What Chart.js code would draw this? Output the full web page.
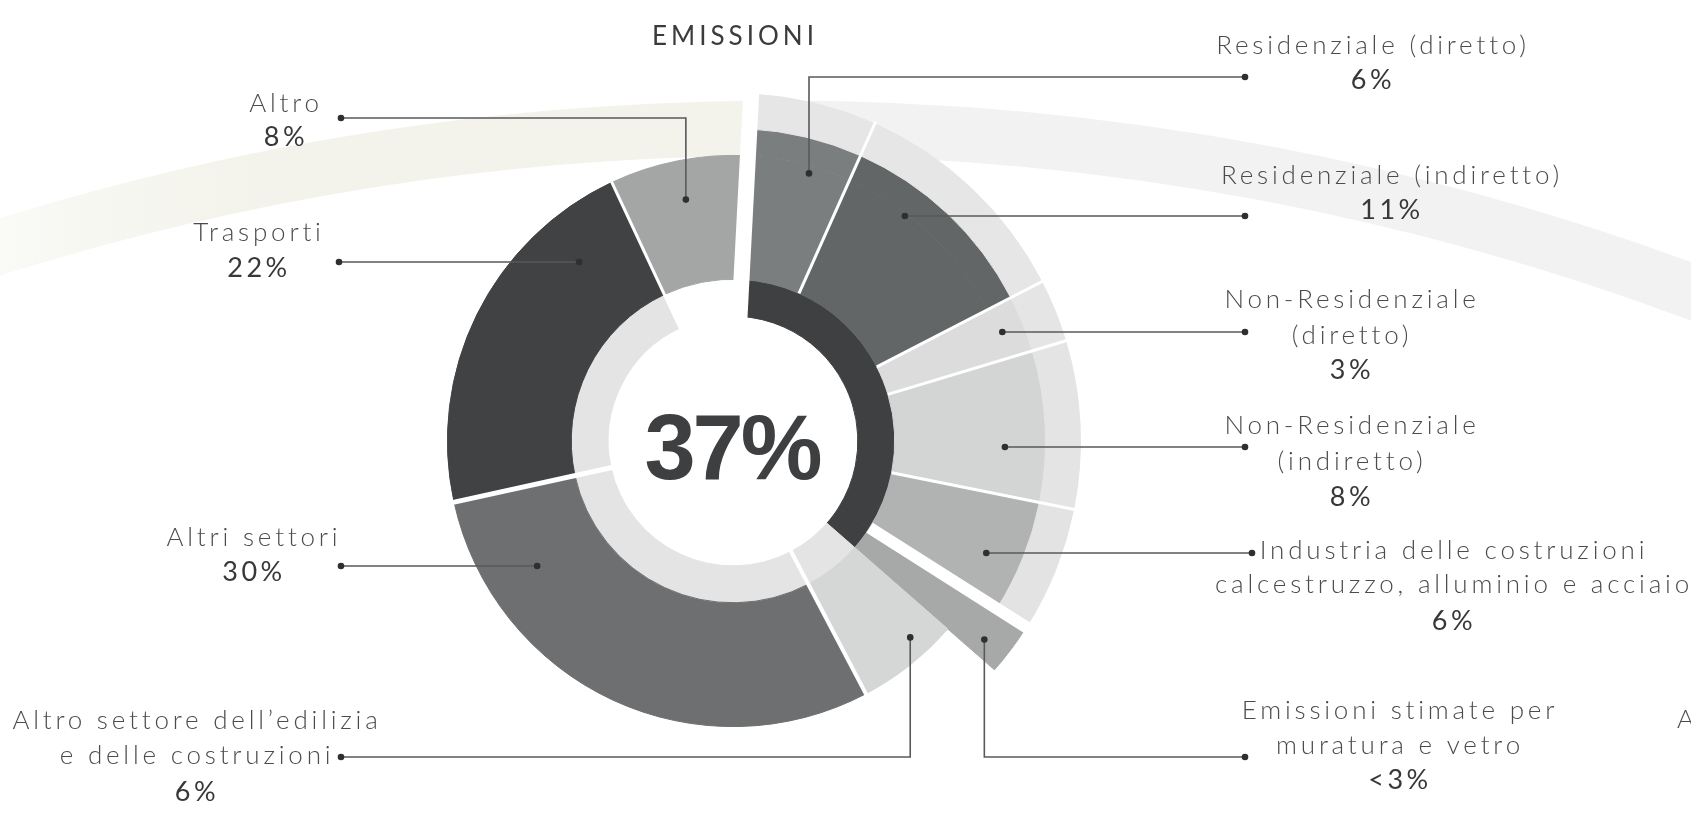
<!DOCTYPE html>
<html><head><meta charset="utf-8">
<script src="https://cdn.jsdelivr.net/npm/chart.js@4.4.1/dist/chart.umd.min.js"></script>
<style>html,body{margin:0;padding:0;background:#fff;overflow:hidden}#wrap{position:relative;width:1691px;height:815px}</style>
</head><body><div id="wrap"><canvas id="c" width="1691" height="815"></canvas></div>
<script>
// ---------- DATA ----------
const title = 'EMISSIONI';
const centerValue = '37%';
const categories = [
  'Residenziale (diretto)', 'Residenziale (indiretto)', 'Non-Residenziale (diretto)',
  'Non-Residenziale (indiretto)', 'Industria delle costruzioni', 'Emissioni stimate per muratura e vetro',
  'Altro settore dell\u2019edilizia e delle costruzioni', 'Altri settori', 'Trasporti', 'Altro'
];
const shares = [6, 11, 3, 8, 6, 2.5, 6, 30, 22, 8];
const shareLabels = ['6%', '11%', '3%', '8%', '6%', '<3%', '6%', '30%', '22%', '8%'];
const labelLines = [
  ['Residenziale (diretto)'],
  ['Residenziale (indiretto)'],
  ['Non-Residenziale', '(diretto)'],
  ['Non-Residenziale', '(indiretto)'],
  ['Industria delle costruzioni', 'calcestruzzo, alluminio e acciaio'],
  ['Emissioni stimate per', 'muratura e vetro'],
  ['Altro settore dell\u2019edilizia', 'e delle costruzioni'],
  ['Altri settori'],
  ['Trasporti'],
  ['Altro']
];

// ---------- STYLE ----------
const T = 'rgba(0,0,0,0)';
const bandColors = ['#e6e6e6','#e6e6e6','#e5e5e5','#e4e4e4','#e3e3e3','#a7a8a8',T,T,T,T];
const extColors  = ['#7b7e7f','#636667','#dcdcdc','#d3d4d4','#b1b2b2','#a7a8a8',T,T,T,T];
const mainColors = ['#7b7e7f','#636667','#dcdcdc','#d3d4d4','#b1b2b2','#a7a8a8','#d5d6d6','#6d6f71','#404244','#a4a6a6'];
const innerColors= ['#3e4042','#3e4042','#3e4042','#3e4042','#3e4042','#3e4042','#e4e4e4','#e4e4e4','#e4e4e4',T];

// white separators after segment index
const SEPS = {
  9: {w: 16, from: 'inner', to: 'far'},
  0: {w: 3, from: 'main', to: 'band'},
  1: {w: 3, from: 'main', to: 'band'},
  2: {w: 3, from: 'main', to: 'band'},
  3: {w: 3, from: 'main', to: 'band'},
  4: {w: 12, from: 'main', to: 'band'},
  6: {w: 4, from: 'inner', to: 'main'},
  7: {w: 5, from: 'inner', to: 'main'},
  8: {w: 3, from: 'inner', to: 'main'}
};

// label layout (text block positions and leader anchors)
const LAYOUT = [
  {cx: 1371, ys: [46, 80], dot: [1245, 77], elbow: true, af: 0.61, rf: 0.94},
  {cx: 1390, ys: [176, 210], dot: [1245, 216], rf: 0.98},
  {cx: 1350, ys: [300, 336, 370], dot: [1245, 332], rf: 1.04},
  {cx: 1350, ys: [426, 462, 497], dot: [1245, 447], rf: 0.89},
  {cx: 1452, ys: [551, 585, 621], dot: [1252, 553], rf: 0.93},
  {cx: 1398, ys: [711, 746, 780], dot: [1245, 757], elbow: true, af: 0.67, rf: 1.28},
  {cx: 195, ys: [721, 756, 792], dot: [341, 757], elbow: true, af: 0.32, rf: 0.83},
  {cx: 252, ys: [538, 572], dot: [341, 566], rf: 0.57},
  {cx: 257, ys: [233, 268], dot: [339, 262], rf: 0.60},
  {cx: 284, ys: [104, 137], dot: [341, 118], elbow: true, af: 0.5, rf: 0.68}
];

const LABEL_FONT = '300 26px Lato, "Open Sans", sans-serif';
const PCT_FONT = '400 27px Lato, "Open Sans", sans-serif';

function ring(colors, weight) {
  return { data: shares, backgroundColor: colors, borderColor: colors, borderWidth: 1, weight: weight, hoverOffset: 0 };
}

function sepLine(ctx, cx, cy, a, r0, r1, w) {
  ctx.save();
  ctx.strokeStyle = '#ffffff';
  ctx.lineWidth = w;
  ctx.lineCap = 'butt';
  ctx.beginPath();
  ctx.moveTo(cx + r0 * Math.cos(a), cy + r0 * Math.sin(a));
  ctx.lineTo(cx + r1 * Math.cos(a), cy + r1 * Math.sin(a));
  ctx.stroke();
  ctx.restore();
}

const overlay = {
  id: 'overlay',
  beforeDatasetsDraw(chart) {
    const ctx = chart.ctx;
    const el = chart.getDatasetMeta(2).data[0];
    const cx = el.x, cy = el.y;
    // large decorative background arc
    const bcx = cx + 47, bcy = cy + 2309, R = 2622;
    const split = cx + 19;
    const angAt = x => -Math.acos((x - bcx) / R);
    ctx.save();
    ctx.lineWidth = 55;
    ctx.lineCap = 'butt';
    const g = ctx.createLinearGradient(0, 0, 260, 0);
    g.addColorStop(0, 'rgba(243,243,235,0.45)');
    g.addColorStop(1, 'rgba(243,243,235,1)');
    ctx.strokeStyle = g;
    ctx.beginPath();
    ctx.arc(bcx, bcy, R, angAt(-60), angAt(split));
    ctx.stroke();
    ctx.strokeStyle = '#f2f2f2';
    ctx.beginPath();
    ctx.arc(bcx, bcy, R, angAt(split), angAt(1760));
    ctx.stroke();
    ctx.restore();
  },
  afterDatasetsDraw(chart) {
    const ctx = chart.ctx;
    const band = chart.getDatasetMeta(0).data;
    const main = chart.getDatasetMeta(2).data;
    const inner = chart.getDatasetMeta(3).data;
    const cx = main[0].x, cy = main[0].y;
    const radii = {
      inner: inner[0].innerRadius - 2,
      main: main[0].innerRadius,
      band: band[0].outerRadius + 2,
      far: 440
    };
    const mainOuter = main[0].outerRadius + 2;
    Object.keys(SEPS).forEach(k => {
      const s = SEPS[k];
      const a = main[+k].endAngle;
      const r1 = s.to === 'main' ? mainOuter : radii[s.to];
      sepLine(ctx, cx, cy, a, radii[s.from], r1, s.w);
    });

    // title
    ctx.save();
    ctx.fillStyle = '#3b3b3b';
    ctx.font = '400 26px Lato, "Open Sans", sans-serif';
    ctx.letterSpacing = '4px';
    ctx.textAlign = 'center';
    ctx.textBaseline = 'middle';
    ctx.fillText(title, cx + 2, 37);
    ctx.restore();

    // center value
    ctx.save();
    ctx.fillStyle = '#3d3f41';
    ctx.font = 'bold 92px "Liberation Sans", Arial, sans-serif';
    ctx.letterSpacing = '-3px';
    ctx.textAlign = 'center';
    ctx.textBaseline = 'middle';
    ctx.fillText(centerValue, cx - 1, cy + 13);
    ctx.restore();

    // labels + leaders
    LAYOUT.forEach((L, i) => {
      const arc = main[i];
      const r = arc.innerRadius + L.rf * (arc.outerRadius - arc.innerRadius);
      let ix, iy;
      const [lx, ly] = L.dot;
      ctx.save();
      ctx.strokeStyle = '#58595b';
      ctx.lineWidth = 1.6;
      ctx.beginPath();
      if (L.elbow) {
        const a = arc.startAngle + L.af * (arc.endAngle - arc.startAngle);
        ix = cx + r * Math.cos(a);
        iy = cy + r * Math.sin(a);
        ctx.moveTo(lx, ly);
        ctx.lineTo(ix, ly);
        ctx.lineTo(ix, iy);
      } else {
        const side = lx < cx ? -1 : 1;
        iy = ly;
        ix = cx + side * Math.sqrt(Math.max(r * r - (ly - cy) * (ly - cy), 0));
        ctx.moveTo(lx, ly);
        ctx.lineTo(ix, iy);
      }
      ctx.stroke();
      ctx.fillStyle = '#2e2f31';
      [[lx, ly], [ix, iy]].forEach(p => {
        ctx.beginPath();
        ctx.arc(p[0], p[1], 3.3, 0, Math.PI * 2);
        ctx.fill();
      });
      // text
      ctx.textAlign = 'center';
      ctx.textBaseline = 'middle';
      const lines = labelLines[i].concat([shareLabels[i]]);
      lines.forEach((t, j) => {
        const isPct = j === lines.length - 1;
        ctx.font = isPct ? PCT_FONT : LABEL_FONT;
        ctx.fillStyle = isPct ? '#37383a' : '#4a4b4d';
        ctx.letterSpacing = isPct ? '3.5px' : '3.8px';
        ctx.fillText(t, L.cx + 2, L.ys[j]);
      });
      ctx.restore();
    });

    // clipped label at right edge
    ctx.save();
    ctx.font = LABEL_FONT;
    ctx.fillStyle = '#4a4b4d';
    ctx.textAlign = 'left';
    ctx.textBaseline = 'middle';
    ctx.fillText('A', 1677, 720);
    ctx.restore();
  }
};

new Chart(document.getElementById('c'), {
  type: 'doughnut',
  data: {
    labels: categories,
    datasets: [
      ring(bandColors, 35),
      ring(extColors, 27),
      ring(mainColors, 124),
      ring(innerColors, 37)
    ]
  },
  options: {
    responsive: false,
    animation: false,
    events: [],
    rotation: 3,
    circumference: 360,
    cutout: '35.92%',
    layout: { padding: { left: 385, right: 610, top: 93, bottom: 26 } },
    plugins: { legend: { display: false }, tooltip: { enabled: false }, title: { display: false } }
  },
  plugins: [overlay]
});
</script>
</body></html>
